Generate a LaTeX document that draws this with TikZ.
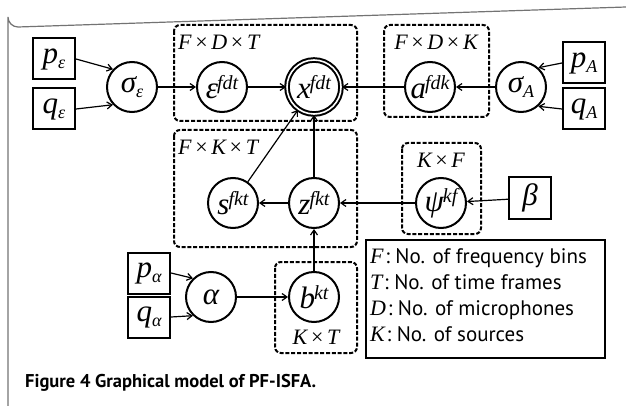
\documentclass[tikz,border=0pt]{standalone}
\usepackage{fontspec}
\setmainfont{Liberation Serif}
\newfontfamily\sansf{PT Sans}
\usetikzlibrary{arrows.meta}
\newcommand{\vsup}[2]{{\fontsize{31}{31}\selectfont\itshape #1}\kern-1pt{\fontsize{20}{20}\selectfont\itshape\raisebox{9pt}{#2}}}
\newcommand{\vsub}[2]{{\fontsize{31}{31}\selectfont\itshape #1}{\fontsize{18}{18}\selectfont\itshape\raisebox{-5pt}{#2}}}
\newcommand{\vone}[1]{{\fontsize{31}{31}\selectfont\itshape #1}}
\newcommand{\plab}[1]{{\fontsize{22}{22}\selectfont\itshape #1}}
\newcommand{\tms}{\,{\upshape ×}\,}
\newcommand{\legt}[1]{{\sansf\fontsize{21}{21}\selectfont #1}}
\begin{document}
\begin{tikzpicture}[x=1pt,y=-1pt,
  var/.style={circle,draw,line width=2pt,minimum size=50pt,inner sep=0pt},
  hyp/.style={rectangle,draw,line width=2pt,minimum width=42pt,minimum height=41pt,inner sep=0pt},
  plate/.style={draw,line width=2pt,rounded corners=6pt,dash pattern=on 4pt off 1.8pt},
  edge/.style={line width=1.2pt,-{Straight Barb[length=5pt,width=7pt]}},
  lg/.style={anchor=base west,inner sep=0pt}]
\useasboundingbox (0,0) rectangle (626,406);
% outer frame
\draw[black!55,line width=1.2pt] (8,406) -- (8,17) arc[start angle=180,end angle=90,radius=10] -- (626,7);
% plates
\draw[plate] (174,25) rectangle (357,121);
\draw[plate] (384,25) rectangle (489,117);
\draw[plate] (174,130) rectangle (357,247);
\draw[plate] (402,143) rectangle (481,234);
\draw[plate] (275,262) rectangle (357,353);
\node[anchor=west,inner sep=0pt] (lfdt) at (178,42) {\plab{F\tms D\tms T}};
\node[anchor=center,inner sep=0pt] (lfdk) at (436,42) {\plab{F\tms D\tms K}};
\node[anchor=west,inner sep=0pt] (lfkt) at (178,147) {\plab{F\tms K\tms T}};
\node[anchor=center,inner sep=0pt] (lkf) at (441,160) {\plab{K\tms F}};
\node[anchor=center,inner sep=0pt] (lkt) at (316,337) {\plab{K\tms T}};
% nodes
\node[hyp] (pe) at (54,59) {\vsub{p}{ε}};
\node[hyp] (qe) at (54,109) {\vsub{q}{ε}};
\node[var] (se) at (132,87) {\vsub{σ}{ε}};
\node[var] (eps) at (222,87) {\vsup{ε}{fdt}};
\node[circle,draw,line width=2pt,minimum size=54pt,inner sep=0pt,double,double distance=1.6pt] (x) at (314,87) {\vsup{x}{fdt}};
\node[var] (a) at (430,87) {\vsup{a}{fdk}};
\node[var] (sA) at (521,87) {\vsub{σ}{A}};
\node[hyp] (pA) at (584,63) {\vsub{p}{A}};
\node[hyp] (qA) at (584,109) {\vsub{q}{A}};
\node[var] (s) at (233,203) {\vsup{s}{fkt}};
\node[var] (z) at (314,203) {\vsup{z}{fkt}};
\node[var] (psi) at (441,203) {\vsup{ψ}{kf}};
\node[hyp] (beta) at (530,198) {\vone{β}};
\node[var] (b) at (314,297) {\vsup{b}{kt}};
\node[var] (al) at (211,297) {\vone{α}};
\node[hyp] (pa) at (149,273) {\vsub{p}{α}};
\node[hyp] (qa) at (149,317) {\vsub{q}{α}};
% edges
\draw[edge] (pe.east) -- (se.137);
\draw[edge] (qe.east) -- (se.223);
\draw[edge] (se) -- (eps);
\draw[edge] (eps) -- (x);
\draw[edge] (a) -- (x);
\draw[edge] (sA) -- (a);
\draw[edge] (pA.west) -- (sA.48);
\draw[edge] (qA.west) -- (sA.312);
\draw[edge] (s) -- (x);
\draw[edge] (z) -- (x);
\draw[edge] (z) -- (s);
\draw[edge] (psi) -- (z);
\draw[edge] (beta) -- (psi);
\draw[edge] (b) -- (z);
\draw[edge] (al) -- (b);
\draw[edge] (pa.east) -- (al.134);
\draw[edge] (qa.east) -- (al.226);
% legend
\node[draw,line width=2pt,minimum width=239pt,minimum height=118pt,inner sep=0pt] (leg) at (485.5,299) {};
\node[lg] (l1) at (370,263) {\plab{F}\,\legt{: No. of frequency bins}};
\node[lg] (l2) at (370,289) {\plab{T}\,\legt{: No. of time frames}};
\node[lg] (l3) at (370,315) {\plab{D}\,\legt{: No. of microphones}};
\node[lg] (l4) at (370,341) {\plab{K}\,\legt{: No. of sources}};
% caption
\node[anchor=base west,inner sep=0pt] (cap) at (25,387) {\sansf\bfseries\fontsize{18.5}{18.5}\selectfont Figure 4 Graphical model of PF-ISFA.};
\end{tikzpicture}
\end{document}
